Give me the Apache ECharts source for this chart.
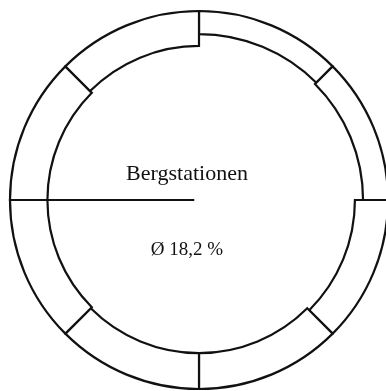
<!DOCTYPE html>
<html>
<head>
<meta charset="utf-8">
<script src="https://cdn.jsdelivr.net/npm/echarts@6/dist/echarts.min.js"></script>
<style>
  html, body { margin: 0; padding: 0; background: #fff; }
  #chart { width: 386px; height: 391px; }
</style>
</head>
<body>
<div id="chart"></div>
<script>
// 8 sectors, clockwise from top; ring thickness in % of the outer radius
const sectors = ['1', '2', '3', '4', '5', '6', '7', '8']
const shares = [12.2, 13.2, 17.5, 19, 19, 19.8, 19.8, 18.5]
const fullScale = 100
const title = 'Bergstationen'
const average = 'Ø 18,2 %'
const markerAngle = 270

const holes = shares.map(v => fullScale - v)

const chart = echarts.init(document.getElementById('chart'), null, { renderer: 'canvas' })
chart.setOption({
  animation: false,
  title: [
    { text: title, left: 182, top: 158, textAlign: 'center',
      textStyle: { fontFamily: 'Liberation Serif', fontWeight: 'normal', fontSize: 22, color: '#111' } },
    { text: average, left: 182, top: 236, textAlign: 'center',
      textStyle: { fontFamily: 'Liberation Serif', fontWeight: 'normal', fontSize: 19, color: '#111' } }
  ],
  polar: [
    { center: [199, 200], radius: 189 },
    { center: [199, 200], radius: 189 }
  ],
  angleAxis: [
    { polarIndex: 0, type: 'category', data: sectors, startAngle: 90, clockwise: true, show: false },
    { polarIndex: 1, type: 'value', min: 0, max: 360, startAngle: 90, clockwise: true, show: false }
  ],
  radiusAxis: [
    { polarIndex: 0, type: 'value', min: 0, max: fullScale, show: false },
    { polarIndex: 1, type: 'value', min: 0, max: fullScale, show: false }
  ],
  series: [
    {
      type: 'bar', coordinateSystem: 'polar', polarIndex: 0, stack: 'ring',
      data: holes, barCategoryGap: '0%',
      itemStyle: { color: 'transparent' }, silent: true
    },
    {
      type: 'bar', coordinateSystem: 'polar', polarIndex: 0, stack: 'ring',
      data: shares, barCategoryGap: '0%',
      itemStyle: { color: '#fff', borderColor: '#111', borderWidth: 2.2 }
    },
    {
      type: 'line', coordinateSystem: 'polar', polarIndex: 1,
      data: [[2.5, markerAngle], [fullScale, markerAngle]],
      symbol: 'none',
      lineStyle: { color: '#111', width: 2 }
    }
  ]
})
</script>
</body>
</html>
